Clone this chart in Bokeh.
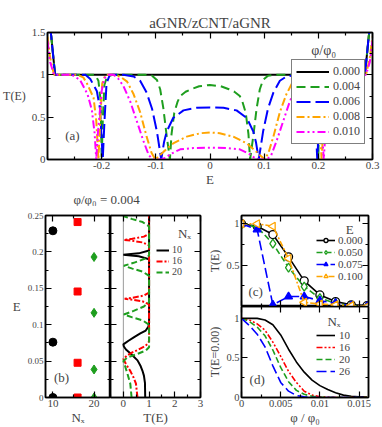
import numpy as np
from bokeh.plotting import figure
from bokeh.models import Range1d, FixedTicker, LinearAxis, Legend, LegendItem, Label, Span, Title
from bokeh.layouts import column, row
from bokeh.embed import file_html
from bokeh.resources import INLINE

FONT = "Liberation Serif"

# ---------------- (a) T(E) for several fluxes ----------------
a_phi_labels = ["0.000", "0.004", "0.006", "0.008", "0.010"]
a_E_000 = [-0.300, -0.293, -0.286, 0.286, 0.293, 0.300]
a_T_000 = [1.80, 1.45, 1.00, 1.00, 1.45, 1.80]
a_E_004 = [-0.300, -0.293, -0.286, -0.212, -0.206, -0.202, -0.200, -0.198, -0.195, -0.190, -0.180, -0.120, -0.107,
           -0.098, -0.092, -0.086, -0.080, -0.074, -0.071, -0.066, -0.060, -0.055, -0.045, -0.035, -0.020, 0.000,
           0.020, 0.035, 0.045, 0.055, 0.060, 0.066, 0.071, 0.074, 0.080, 0.086, 0.092, 0.098, 0.107, 0.120, 0.180,
           0.190, 0.195, 0.198, 0.200, 0.202, 0.206, 0.212, 0.286, 0.293, 0.300]
a_T_004 = [1.80, 1.45, 1.00, 1.00, 0.93, 0.70, 0.00, 0.45, 0.88, 0.98, 1.00, 1.00, 0.99, 0.94, 0.83, 0.60, 0.28,
           0.00, 0.30, 0.55, 0.68, 0.75, 0.80, 0.83, 0.865, 0.88, 0.865, 0.83, 0.80, 0.75, 0.68, 0.55, 0.30, 0.00,
           0.28, 0.60, 0.83, 0.94, 0.99, 1.00, 1.00, 0.98, 0.88, 0.45, 0.00, 0.70, 0.93, 1.00, 1.00, 1.45, 1.80]
a_E_006 = [-0.300, -0.293, -0.286, -0.230, -0.221, -0.209, -0.203, -0.198, -0.195, -0.191, -0.185, -0.160, -0.141,
           -0.129, -0.117, -0.107, -0.098, -0.090, -0.085, -0.080, -0.068, -0.049, -0.025, 0.000, 0.025, 0.049,
           0.068, 0.080, 0.085, 0.090, 0.098, 0.107, 0.117, 0.129, 0.141, 0.160, 0.185, 0.191, 0.195, 0.198, 0.203,
           0.209, 0.221, 0.230, 0.286, 0.293, 0.300]
a_T_006 = [1.80, 1.45, 1.00, 1.00, 0.95, 0.81, 0.60, 0.00, 0.43, 0.90, 1.00, 1.00, 0.98, 0.93, 0.79, 0.60, 0.33,
           0.00, 0.20, 0.33, 0.49, 0.58, 0.61, 0.615, 0.61, 0.58, 0.49, 0.33, 0.20, 0.00, 0.33, 0.60, 0.79, 0.93,
           0.98, 1.00, 1.00, 0.90, 0.43, 0.00, 0.60, 0.81, 0.95, 1.00, 1.00, 1.45, 1.80]
a_E_008 = [-0.300, -0.295, -0.288, -0.245, -0.234, -0.228, -0.215, -0.210, -0.206, -0.203, -0.199, -0.193, -0.180,
           -0.166, -0.153, -0.141, -0.129, -0.117, -0.108, -0.101, -0.094, -0.086, -0.068, -0.043, -0.018, 0.000,
           0.018, 0.043, 0.068, 0.086, 0.094, 0.101, 0.108, 0.117, 0.129, 0.141, 0.153, 0.166, 0.180, 0.193, 0.199,
           0.203, 0.206, 0.210, 0.215, 0.228, 0.234, 0.245, 0.288, 0.295, 0.300]
a_T_008 = [1.45, 1.20, 1.00, 1.00, 0.97, 0.91, 0.73, 0.46, 0.00, 0.42, 0.90, 1.00, 1.00, 0.98, 0.92, 0.77, 0.56,
           0.27, 0.08, 0.00, 0.04, 0.09, 0.19, 0.27, 0.31, 0.32, 0.31, 0.27, 0.19, 0.09, 0.04, 0.00, 0.08, 0.27,
           0.56, 0.77, 0.92, 0.98, 1.00, 1.00, 0.90, 0.42, 0.00, 0.46, 0.73, 0.91, 0.97, 1.00, 1.00, 1.20, 1.45]
a_E_010 = [-0.300, -0.295, -0.288, -0.255, -0.240, -0.226, -0.218, -0.213, -0.210, -0.207, -0.200, -0.195, -0.188,
           -0.178, -0.170, -0.160, -0.147, -0.135, -0.123, -0.113, -0.105, -0.090, -0.082, -0.074, -0.055, -0.031,
           0.000, 0.031, 0.055, 0.074, 0.082, 0.090, 0.105, 0.113, 0.123, 0.135, 0.147, 0.160, 0.170, 0.178, 0.188,
           0.195, 0.200, 0.207, 0.210, 0.213, 0.218, 0.226, 0.240, 0.255, 0.288, 0.295, 0.300]
a_T_010 = [1.40, 1.15, 1.00, 1.00, 0.94, 0.77, 0.58, 0.31, 0.00, 0.31, 0.81, 0.96, 1.00, 1.00, 0.96, 0.87, 0.68,
           0.45, 0.22, 0.05, 0.00, 0.00, 0.02, 0.06, 0.12, 0.135, 0.14, 0.135, 0.12, 0.06, 0.02, 0.00, 0.00, 0.05,
           0.22, 0.45, 0.68, 0.87, 0.96, 1.00, 1.00, 0.96, 0.81, 0.31, 0.00, 0.31, 0.58, 0.77, 0.94, 1.00, 1.00,
           1.15, 1.40]
a_xticks = [-0.2, -0.1, 0.0, 0.1, 0.2, 0.3]
a_xtick_labels = ["-0.2", "-0.1", "0", "0.1", "0.2", "0.3"]
a_yticks = [0.0, 0.5, 1.0, 1.5]
a_ytick_labels = ["0", "0.5", "1", "1.5"]

# ---------------- (b) levels and T(E) for several Nx ----------------
b_Nx_labels = ["10", "16", "20"]
b_E_10 = [0.000, 0.076, 0.229]
b_E_16 = [0.000, 0.0477, 0.1456, 0.241]
b_E_20 = [0.000, 0.0385, 0.1163, 0.193]
b_curve_E_10 = [0.000, 0.020, 0.030, 0.037, 0.044, 0.051, 0.060, 0.066, 0.070, 0.073, 0.078, 0.083, 0.088, 0.092,
                0.097, 0.102, 0.190, 0.194, 0.196, 0.198, 0.202, 0.250]
b_curve_T_10 = [0.85, 0.84, 0.80, 0.74, 0.66, 0.55, 0.29, 0.10, 0.02, 0.00, 0.20, 0.42, 0.66, 0.87, 0.97, 1.00,
                1.00, 0.60, 0.00, 0.60, 1.00, 1.00]
b_curve_E_16 = [0.000, 0.019, 0.028, 0.037, 0.046, 0.053, 0.058, 0.062, 0.065, 0.071, 0.077, 0.128, 0.132, 0.1345,
                0.1355, 0.137, 0.140, 0.144, 0.209, 0.213, 0.2155, 0.2165, 0.218, 0.221, 0.225, 0.250]
b_curve_T_16 = [0.55, 0.49, 0.39, 0.26, 0.10, 0.00, 0.16, 0.35, 0.55, 0.87, 1.00, 1.00, 0.75, 0.30, 0.05, 0.35,
                0.80, 1.00, 1.00, 0.75, 0.30, 0.02, 0.35, 0.80, 1.00, 1.00]
b_curve_E_20 = [0.000, 0.019, 0.0325, 0.044, 0.050, 0.055, 0.060, 0.0645, 0.069, 0.100, 0.106, 0.110, 0.114,
                0.119, 0.125, 0.131, 0.167, 0.173, 0.177, 0.181, 0.185, 0.190, 0.195, 0.235, 0.241, 0.245, 0.249,
                0.250]
b_curve_T_20 = [0.32, 0.27, 0.16, 0.06, 0.00, 0.16, 0.55, 0.87, 1.00, 1.00, 0.75, 0.35, 0.02, 0.40, 0.80, 1.00,
                1.00, 0.75, 0.35, 0.02, 0.40, 0.80, 1.00, 1.00, 0.75, 0.35, 0.02, 0.00]
b_Nx_ticks = [10, 20]
b_Nx_tick_labels = ["10", "20"]
b_E_ticks = [0.0, 0.05, 0.1, 0.15, 0.2, 0.25]
b_E_tick_labels = ["0", "0.05", "0.1", "0.15", "0.2", "0.25"]
b_T_ticks = [0, 1, 2, 3]
b_T_tick_labels = ["0", "1", "2", "3"]

# ---------------- (c) T(E) vs flux at fixed E ----------------
c_E_labels = ["0.000", "0.050", "0.075", "0.100"]
c_phi = [0.000, 0.002, 0.004, 0.006, 0.008, 0.010, 0.012, 0.014, 0.016]
c_T_000 = [1.00, 0.97, 0.87, 0.60, 0.31, 0.14, 0.06, 0.02, 0.01]
c_T_050 = [1.00, 0.96, 0.76, 0.47, 0.24, 0.10, 0.04, 0.01, 0.00]
c_T_075 = [1.00, 0.93, 0.02, 0.12, 0.12, 0.07, 0.04, 0.01, 0.00]
c_T_100 = [1.00, 1.00, 0.97, 0.58, 0.05, 0.03, 0.02, 0.01, 0.00]

# ---------------- (d) T(E=0) vs flux for several Nx ----------------
d_Nx_labels = ["10", "16", "20", "26"]
d_phi = [0.000, 0.001, 0.002, 0.003, 0.004, 0.005, 0.006, 0.007, 0.008, 0.009, 0.010, 0.011, 0.012, 0.013,
         0.014, 0.015, 0.016]
d_T_10 = [1.00, 1.00, 1.00, 0.98, 0.92, 0.79, 0.61, 0.45, 0.32, 0.22, 0.15, 0.10, 0.06, 0.03, 0.015, 0.01, 0.005]
d_T_16 = [1.00, 0.98, 0.93, 0.85, 0.70, 0.52, 0.33, 0.19, 0.08, 0.03, 0.01, 0.005, 0.0, 0.0, 0.0, 0.0, 0.0]
d_T_20 = [1.00, 0.96, 0.89, 0.78, 0.60, 0.38, 0.20, 0.09, 0.04, 0.015, 0.005, 0.0, 0.0, 0.0, 0.0, 0.0, 0.0]
d_T_26 = [1.00, 0.91, 0.80, 0.64, 0.40, 0.19, 0.08, 0.025, 0.01, 0.003, 0.0, 0.0, 0.0, 0.0, 0.0, 0.0, 0.0]
cd_phi_ticks = [0.0, 0.005, 0.01, 0.015]
cd_phi_tick_labels = ["0", "0.005", "0.01", "0.015"]
cd_T_ticks = [0.0, 0.5, 1.0]
cd_T_tick_labels = ["0", "0.5", "1"]

BLACK, GREEN, BLUE, ORANGE, MAGENTA, RED = "#000000", "#1e9e1e", "#0000ff", "#ffa500", "#ff00ff", "#ff0000"


def minor_between(ticks, step, lo, hi):
    out = []
    v = lo
    while v <= hi + 1e-12:
        if all(abs(v - t) > 1e-9 for t in ticks):
            out.append(round(v, 6))
        v += step
    return out


def make_fig(w, h, xr, yr, bl, br, bt, bb):
    p = figure(width=w, height=h, x_range=Range1d(*xr), y_range=Range1d(*yr),
               toolbar_location=None, output_backend="svg",
               min_border_left=bl, min_border_right=br, min_border_top=bt, min_border_bottom=bb)
    p.grid.visible = False
    p.outline_line_color = "black"
    p.outline_line_width = 1.5
    p.background_fill_color = "white"
    p.border_fill_color = "white"
    return p


def style_axis(ax, ticks, minor, labels=None, fs="11px"):
    ax.ticker = FixedTicker(ticks=ticks, minor_ticks=minor)
    ax.major_tick_in = 6
    ax.major_tick_out = 0
    ax.minor_tick_in = 3
    ax.minor_tick_out = 0
    ax.axis_line_width = 1.5
    ax.major_tick_line_width = 1.2
    ax.minor_tick_line_width = 1.2
    ax.major_label_text_font = FONT
    ax.axis_label_text_font = FONT
    ax.axis_label_text_font_style = "normal"
    if labels is not None:
        ax.major_label_overrides = {t: l for t, l in zip(ticks, labels)}
        ax.major_label_text_font_size = fs
        ax.major_label_standoff = 2
    else:
        ax.major_label_overrides = {t: "" for t in ticks}
        ax.major_label_text_font_size = "0px"
        ax.major_label_standoff = 0


def mirror(p, side, ticks, minor):
    ax = LinearAxis()
    style_axis(ax, ticks, minor)
    p.add_layout(ax, side)


def txt(x, y, s, size="13px", align="center", baseline="middle", xoff=0, yoff=0):
    return Label(x=x, y=y, text=s, text_font=FONT, text_font_size=size, text_align=align,
                 text_baseline=baseline, x_offset=xoff, y_offset=yoff)


# ================= panel (a) =================
pa = make_fig(382, 206, (-0.3, 0.3), (0.0, 1.5), 47, 10, 32, 44)
a_xminor = minor_between(a_xticks, 0.05, -0.3, 0.3)
a_yminor = minor_between(a_yticks, 0.25, 0.0, 1.5)
style_axis(pa.xaxis[0], a_xticks, a_xminor, a_xtick_labels, "11px")
style_axis(pa.yaxis[0], a_yticks, a_yminor, a_ytick_labels, "11px")
pa.xaxis[0].axis_label = "E"
pa.xaxis[0].axis_label_text_font_size = "13px"
pa.xaxis[0].axis_label_standoff = 0
pa.yaxis[0].axis_label = "T(E)"
pa.yaxis[0].axis_label_text_font_size = "12px"
pa.yaxis[0].axis_label_orientation = "horizontal"
pa.yaxis[0].axis_label_standoff = 3
mirror(pa, "above", a_xticks, a_xminor)
mirror(pa, "right", a_yticks, a_yminor)
pa.title.text = "aGNR/zCNT/aGNR"
pa.title.text_font = FONT
pa.title.text_font_size = "15px"
pa.title.text_font_style = "normal"
pa.title.align = "center"
pa.title.standoff = 4
pa.add_layout(Title(text="φ/φ₀ = 0.004", align="left", offset=26, standoff=0, text_font=FONT,
                    text_font_size="13px", text_font_style="normal"), "below")

ra = [
    pa.line(a_E_000, a_T_000, line_color=BLACK, line_width=2),
    pa.line(a_E_004, a_T_004, line_color=GREEN, line_width=2, line_dash="9 5"),
    pa.line(a_E_006, a_T_006, line_color=BLUE, line_width=2, line_dash="14 5"),
    pa.line(a_E_008, a_T_008, line_color=ORANGE, line_width=2, line_dash="8 3 2 3"),
    pa.line(a_E_010, a_T_010, line_color=MAGENTA, line_width=2, line_dash="8 3 2 3 2 3"),
]
leg_a = Legend(items=[LegendItem(label=l, renderers=[r]) for l, r in zip(a_phi_labels, ra)],
               location=(244, 15), label_text_font=FONT, label_text_font_size="12px",
               glyph_width=33, glyph_height=15, label_height=15, label_standoff=4, spacing=0,
               padding=4, margin=0, border_line_color="black", border_line_width=1.2,
               background_fill_color="white", background_fill_alpha=1.0)
pa.add_layout(leg_a)
pa.add_layout(txt(0.21, 1.29, "φ/φ₀", "14px"))
pa.add_layout(txt(-0.254, 0.28, "(a)"))

# ================= panel (b) left: levels =================
b_E_minor = minor_between(b_E_ticks, 0.025, 0.0, 0.25)
pb1 = make_fig(110, 221, (8.2, 24.0), (0.0, 0.25), 45, 0, 9, 30)
style_axis(pb1.xaxis[0], b_Nx_ticks, [15], b_Nx_tick_labels, "11px")
style_axis(pb1.yaxis[0], b_E_ticks, b_E_minor, b_E_tick_labels, "9px")
pb1.xaxis[0].axis_label = "Nₓ"
pb1.xaxis[0].axis_label_text_font_size = "13px"
pb1.xaxis[0].axis_label_standoff = 0
pb1.yaxis[0].axis_label = "E"
pb1.yaxis[0].axis_label_text_font_size = "13px"
pb1.yaxis[0].axis_label_orientation = "horizontal"
pb1.yaxis[0].axis_label_standoff = 4
mirror(pb1, "above", b_Nx_ticks, [15])
mirror(pb1, "right", b_E_ticks, b_E_minor)
pb1.scatter([10] * len(b_E_10), b_E_10, marker="circle", size=8, color=BLACK)
pb1.scatter([16] * len(b_E_16), b_E_16, marker="square", size=7, color=RED)
pb1.scatter([20] * len(b_E_20), b_E_20, marker="diamond", size=9, color=GREEN)
pb1.add_layout(txt(12.1, 0.0275, "(b)"))

# ================= panel (b) right: T(E) =================
pb2 = make_fig(95, 221, (-0.5, 3.0), (0.0, 0.25), 0, 5, 9, 30)
b_T_minor = minor_between(b_T_ticks, 0.5, -0.5, 3.0)
style_axis(pb2.xaxis[0], b_T_ticks, b_T_minor, b_T_tick_labels, "11px")
style_axis(pb2.yaxis[0], b_E_ticks, b_E_minor)
pb2.xaxis[0].axis_label = "T(E)"
pb2.xaxis[0].axis_label_text_font_size = "13px"
pb2.xaxis[0].axis_label_standoff = 0
mirror(pb2, "above", b_T_ticks, b_T_minor)
mirror(pb2, "right", b_E_ticks, b_E_minor)
pb2.add_layout(Span(location=0, dimension="height", line_color="#9a9a9a", line_width=1, level="underlay"))
rb = [
    pb2.line(b_curve_T_10, b_curve_E_10, line_color=BLACK, line_width=2),
    pb2.line(b_curve_T_16, b_curve_E_16, line_color=RED, line_width=2, line_dash="6 2 2 2"),
    pb2.line(b_curve_T_20, b_curve_E_20, line_color=GREEN, line_width=2, line_dash="6 3"),
]
leg_b = Legend(items=[LegendItem(label=l, renderers=[r]) for l, r in zip(b_Nx_labels, rb)],
               location=(46, 120), label_text_font=FONT, label_text_font_size="10px",
               glyph_width=13, glyph_height=10, label_height=10, label_standoff=3, spacing=0,
               padding=0, margin=0, border_line_alpha=0, background_fill_alpha=0)
pb2.add_layout(leg_b)
pb2.add_layout(txt(2.38, 0.225, "Nₓ"))

# ================= panel (c) =================
cd_phi_minor = minor_between(cd_phi_ticks, 0.0025, 0.0, 0.016)
cd_T_minor = [0.25, 0.75]
pc = make_fig(177, 100, (0.0, 0.0162), (0.0, 1.1), 35, 14, 9, 0)
style_axis(pc.xaxis[0], cd_phi_ticks, cd_phi_minor)
style_axis(pc.yaxis[0], cd_T_ticks, cd_T_minor, ["", "0.5", "1"], "10.5px")
pc.yaxis[0].axis_label = "T(E)"
pc.yaxis[0].axis_label_text_font_size = "12px"
pc.yaxis[0].axis_label_standoff = 1
mirror(pc, "above", cd_phi_ticks, cd_phi_minor)
mirror(pc, "right", cd_T_ticks, cd_T_minor)
c_specs = [
    (c_T_000, BLACK, None, "circle", "white", 0.0),
    (c_T_050, GREEN, "6 3", "diamond", "white", 0.0),
    (c_T_075, BLUE, "10 4", "triangle", BLUE, 0.0),
    (c_T_100, ORANGE, "6 2 2 2", "triangle", "white", np.pi / 2),
]
c_items = []
for lab, (T, col, dash, mk, fill, ang) in zip(c_E_labels, c_specs):
    if dash:
        lr = pc.line(c_phi, T, line_color=col, line_width=1.6, line_dash=dash)
    else:
        lr = pc.line(c_phi, T, line_color=col, line_width=1.6)
    sr = pc.scatter(c_phi, T, marker=mk, size=8 if mk != "diamond" else 9, line_color=col,
                    fill_color=fill, line_width=1.3, angle=ang)
    c_items.append(LegendItem(label=lab, renderers=[lr, sr]))
leg_c = Legend(items=c_items, location=(75, 24), label_text_font=FONT, label_text_font_size="11px",
               glyph_width=19, glyph_height=10, label_height=10, label_standoff=3, spacing=0,
               padding=0, margin=0, border_line_alpha=0, background_fill_alpha=0)
pc.add_layout(leg_c)
pc.add_layout(txt(0.0138, 0.93, "E"))
pc.add_layout(txt(0.0018, 0.18, "(c)"))
pc.add_layout(txt(0.0, 0.0, cd_T_tick_labels[0], "10.5px", "right", "bottom", -2, 4))

# ================= panel (d) =================
pd_ = make_fig(177, 121, (0.0, 0.0162), (0.0, 1.15), 35, 14, 0, 30)
style_axis(pd_.xaxis[0], cd_phi_ticks, cd_phi_minor, cd_phi_tick_labels, "10.5px")
style_axis(pd_.yaxis[0], cd_T_ticks, cd_T_minor, cd_T_tick_labels, "10.5px")
pd_.xaxis[0].axis_label = "φ / φ₀"
pd_.xaxis[0].axis_label_text_font_size = "13px"
pd_.xaxis[0].axis_label_standoff = 0
pd_.yaxis[0].axis_label = "T(E=0.00)"
pd_.yaxis[0].axis_label_text_font_size = "12px"
pd_.yaxis[0].axis_label_standoff = 1
mirror(pd_, "above", cd_phi_ticks, cd_phi_minor)
mirror(pd_, "right", cd_T_ticks, cd_T_minor)
rd = [
    pd_.line(d_phi, d_T_10, line_color=BLACK, line_width=1.6),
    pd_.line(d_phi, d_T_16, line_color=RED, line_width=1.6, line_dash="6 2 2 2 2 2"),
    pd_.line(d_phi, d_T_20, line_color=GREEN, line_width=1.6, line_dash="6 3"),
    pd_.line(d_phi, d_T_26, line_color=BLUE, line_width=1.6, line_dash="10 4"),
]
leg_d = Legend(items=[LegendItem(label=l, renderers=[r]) for l, r in zip(d_Nx_labels, rd)],
               location=(75, 20), label_text_font=FONT, label_text_font_size="11px",
               glyph_width=19, glyph_height=10, label_height=10, label_standoff=4, spacing=0,
               padding=0, margin=0, border_line_alpha=0, background_fill_alpha=0)
pd_.add_layout(leg_d)
pd_.add_layout(txt(0.0118, 0.96, "Nₓ"))
pd_.add_layout(txt(0.002, 0.225, "(d)"))

layout = column(pa, row(pb1, pb2, column(pc, pd_)))
open("out.html", "w").write(file_html(layout, INLINE))
